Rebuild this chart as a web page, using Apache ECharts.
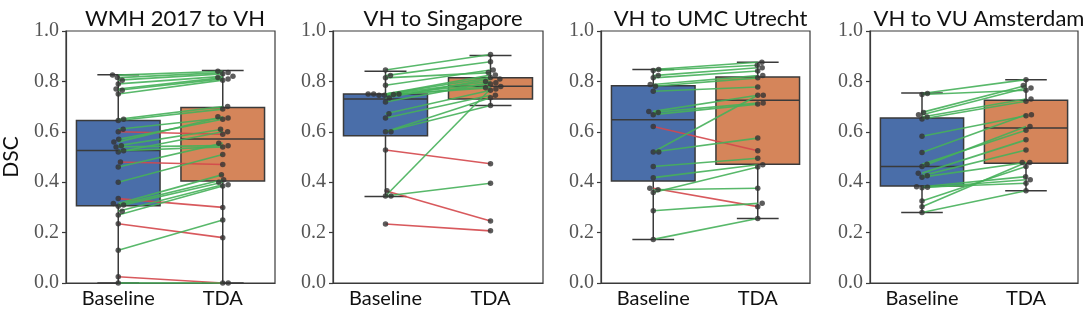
<!doctype html>
<html>
<head>
<meta charset="utf-8">
<title>DSC Baseline vs TDA</title>
<style>
  html, body { margin: 0; padding: 0; background: #fff; }
  #main { width: 1084px; height: 314px; }
</style>
</head>
<body>
<div id="main"></div>
<script src="https://cdn.jsdelivr.net/npm/echarts@6/dist/echarts.min.js"></script>
<script>
var titles = ['WMH 2017 to VH', 'VH to Singapore', 'VH to UMC Utrecht', 'VH to VU Amsterdam'];
var categories = ['Baseline', 'TDA'];
var yTicks = [0, 0.2, 0.4, 0.6, 0.8, 1.0];

// paired DSC per case (same index = same case)
var wmhBase = [0.825, 0.815, 0.805, 0.79, 0.77, 0.765, 0.75, 0.65, 0.645, 0.61, 0.60, 0.57, 0.56, 0.545, 0.54,
  0.525, 0.52, 0.48, 0.46, 0.40, 0.335, 0.315, 0.31, 0.305, 0.285, 0.27, 0.235, 0.13, 0.025, 0.0];
var wmhTda = [0.84, 0.835, 0.83, 0.82, 0.815, 0.81, 0.805, 0.70, 0.69, 0.655, 0.59, 0.65, 0.66, 0.61, 0.545,
  0.54, 0.60, 0.47, 0.555, 0.51, 0.30, 0.43, 0.41, 0.40, 0.39, 0.385, 0.18, 0.25, 0.0, 0.0];

var singBase = [0.845, 0.823, 0.814, 0.785, 0.75, 0.75, 0.75, 0.748, 0.745, 0.745, 0.734, 0.718, 0.672, 0.655,
  0.60, 0.60, 0.528, 0.366, 0.345, 0.345, 0.234];
var singTda = [0.907, 0.878, 0.835, 0.845, 0.825, 0.815, 0.80, 0.79, 0.78, 0.775, 0.81, 0.795, 0.765, 0.745,
  0.735, 0.704, 0.473, 0.246, 0.77, 0.396, 0.207];

var umcBase = [0.847, 0.843, 0.823, 0.814, 0.788, 0.781, 0.761, 0.681, 0.677, 0.668, 0.621, 0.52, 0.52, 0.462,
  0.418, 0.376, 0.37, 0.359, 0.287, 0.173];
var umcTda = [0.876, 0.864, 0.854, 0.841, 0.823, 0.814, 0.778, 0.745, 0.714, 0.71, 0.525, 0.745, 0.575, 0.495,
  0.469, 0.303, 0.376, 0.46, 0.316, 0.256];

var vuBase = [0.752, 0.748, 0.677, 0.668, 0.659, 0.651, 0.582, 0.518, 0.471, 0.462, 0.436, 0.426, 0.42, 0.382,
  0.38, 0.378, 0.325, 0.303, 0.28];
var vuTda = [0.807, 0.765, 0.784, 0.774, 0.73, 0.721, 0.664, 0.668, 0.606, 0.621, 0.568, 0.528, 0.478, 0.422,
  0.396, 0.41, 0.462, 0.478, 0.366];

// box stats as drawn: [whisker low, Q1, median, Q3, whisker high]
var wmhBox = [[0.0, 0.307, 0.526, 0.645, 0.826], [0.0, 0.405, 0.571, 0.696, 0.843]];
var singBox = [[0.343, 0.584, 0.730, 0.750, 0.840], [0.704, 0.730, 0.781, 0.814, 0.903]];
var umcBox = [[0.173, 0.405, 0.648, 0.783, 0.847], [0.256, 0.471, 0.725, 0.817, 0.876]];
var vuBox = [[0.280, 0.385, 0.462, 0.655, 0.754], [0.366, 0.475, 0.615, 0.725, 0.807]];

var panels = [
  { base: wmhBase, tda: wmhTda, box: wmhBox },
  { base: singBase, tda: singTda, box: singBox },
  { base: umcBase, tda: umcTda, box: umcBox },
  { base: vuBase, tda: vuTda, box: vuBox }
];

var boxColors = ['#4a6ea9', '#d5855a'];
var upColor = '#46b05a';
var downColor = '#d4474b';
var edge = '#3a3a3a';

var gridLefts = [65, 333, 601, 870];
var gridWidths = [210, 210, 209, 208];
var gridTop = 31, gridHeight = 252;
var dot = 5.5;

// simple beeswarm: horizontal offsets (in category units) so dots don't overlap
function swarm(values, pxPerX, pxPerY) {
  var order = values.map(function (v, i) { return i; })
    .sort(function (a, b) { return values[a] - values[b]; });
  var placed = [];
  var out = new Array(values.length);
  order.forEach(function (i) {
    var y = values[i] * pxPerY;
    var cands = [0];
    placed.forEach(function (p) {
      var dy = Math.abs(p.y - y);
      if (dy < dot) {
        var dx = Math.sqrt(dot * dot - dy * dy);
        cands.push(p.x + dx, p.x - dx);
      }
    });
    cands.sort(function (a, b) { return Math.abs(a) - Math.abs(b); });
    var x = 0;
    for (var c = 0; c < cands.length; c++) {
      var ok = placed.every(function (p) {
        var ddx = p.x - cands[c], ddy = p.y - y;
        return ddx * ddx + ddy * ddy >= dot * dot - 0.01;
      });
      if (ok) { x = cands[c]; break; }
    }
    placed.push({ x: x, y: y });
    out[i] = x / pxPerX;
  });
  return out;
}

function renderBox(params, api) {
  var k = api.value(0);
  var lo = api.coord([k, api.value(1)]);
  var q1 = api.coord([k, api.value(2)]);
  var md = api.coord([k, api.value(3)]);
  var q3 = api.coord([k, api.value(4)]);
  var hi = api.coord([k, api.value(5)]);
  var band = api.size([1, 0])[0];
  var hw = band * 0.4, cw = band * 0.2, cx = lo[0];
  var st = { stroke: edge, lineWidth: 1.5 };
  return {
    type: 'group',
    children: [
      { type: 'line', shape: { x1: cx, y1: lo[1], x2: cx, y2: hi[1] }, style: st },
      { type: 'line', shape: { x1: cx - cw, y1: lo[1], x2: cx + cw, y2: lo[1] }, style: st },
      { type: 'line', shape: { x1: cx - cw, y1: hi[1], x2: cx + cw, y2: hi[1] }, style: st },
      { type: 'rect', shape: { x: cx - hw, y: q3[1], width: hw * 2, height: q1[1] - q3[1] },
        style: { fill: boxColors[k], stroke: edge, lineWidth: 1.5 } },
      { type: 'line', shape: { x1: cx - hw, y1: md[1], x2: cx + hw, y2: md[1] }, style: st }
    ]
  };
}

function renderPair(params, api) {
  var a = api.coord([api.value(0), api.value(1)]);
  var b = api.coord([api.value(2), api.value(3)]);
  return {
    type: 'line',
    shape: { x1: a[0], y1: a[1], x2: b[0], y2: b[1] },
    style: { stroke: api.value(3) >= api.value(1) ? upColor : downColor, lineWidth: 1.6, opacity: 0.9 }
  };
}

var grids = [], xAxes = [], yAxes = [], series = [], titleOpts = [];

panels.forEach(function (p, g) {
  grids.push({
    left: gridLefts[g], top: gridTop, width: gridWidths[g], height: gridHeight,
    show: true, borderColor: edge, borderWidth: 1.2, backgroundColor: 'transparent'
  });
  titleOpts.push({
    text: titles[g], left: gridLefts[g] + gridWidths[g] / 2, top: 3, textAlign: 'center',
    textStyle: { fontFamily: 'Lato', fontSize: 22, fontWeight: 'normal', color: '#111' }
  });
  xAxes.push({
    type: 'category', gridIndex: g, data: categories,
    axisLine: { onZero: false, lineStyle: { color: edge, width: 1.2 } },
    axisTick: { alignWithLabel: true, length: 4, lineStyle: { color: edge, width: 1.2 } },
    axisLabel: { margin: 6, fontFamily: 'Lato', fontSize: 20, color: '#111' },
    splitLine: { show: false }
  });
  xAxes.push({ type: 'value', gridIndex: g, min: -0.5, max: 1.5, show: false });
  yAxes.push({
    type: 'value', gridIndex: g, min: 0, max: 1, interval: 0.2,
    name: g === 0 ? 'DSC' : '', nameLocation: 'middle', nameGap: 44, nameRotate: 90,
    nameTextStyle: { fontFamily: 'Lato', fontSize: 21, color: '#111' },
    axisLine: { show: true, onZero: false, lineStyle: { color: edge, width: 1.2 } },
    axisTick: { show: true, length: 4, lineStyle: { color: edge, width: 1.2 } },
    axisLabel: {
      margin: 7, fontFamily: 'Liberation Serif', fontSize: 20, color: '#555',
      formatter: function (v) { return yTicks.indexOf(+v.toFixed(1)) >= 0 ? v.toFixed(1) : ''; }
    },
    splitLine: { show: false }
  });

  series.push({
    type: 'custom', xAxisIndex: g * 2, yAxisIndex: g, z: 1,
    renderItem: renderBox,
    encode: { x: 0, y: [1, 2, 3, 4, 5] },
    data: p.box.map(function (b, k) { return [k].concat(b); })
  });
  series.push({
    type: 'custom', xAxisIndex: g * 2 + 1, yAxisIndex: g, z: 2,
    renderItem: renderPair,
    encode: { x: [0, 2], y: [1, 3] },
    data: p.base.map(function (v, i) { return [0, v, 1, p.tda[i]]; })
  });

  var pxX = gridWidths[g] / 2, pxY = gridHeight;
  var offB = swarm(p.base, pxX, pxY), offT = swarm(p.tda, pxX, pxY);
  var pts = p.base.map(function (v, i) { return [offB[i], v]; })
    .concat(p.tda.map(function (v, i) { return [1 + offT[i], v]; }));
  series.push({
    type: 'scatter', xAxisIndex: g * 2 + 1, yAxisIndex: g, z: 3,
    symbolSize: dot, itemStyle: { color: '#333' },
    data: pts
  });
});

var chart = echarts.init(document.getElementById('main'));
chart.setOption({
  animation: false,
  title: titleOpts,
  grid: grids,
  xAxis: xAxes,
  yAxis: yAxes,
  series: series
});
</script>
</body>
</html>
